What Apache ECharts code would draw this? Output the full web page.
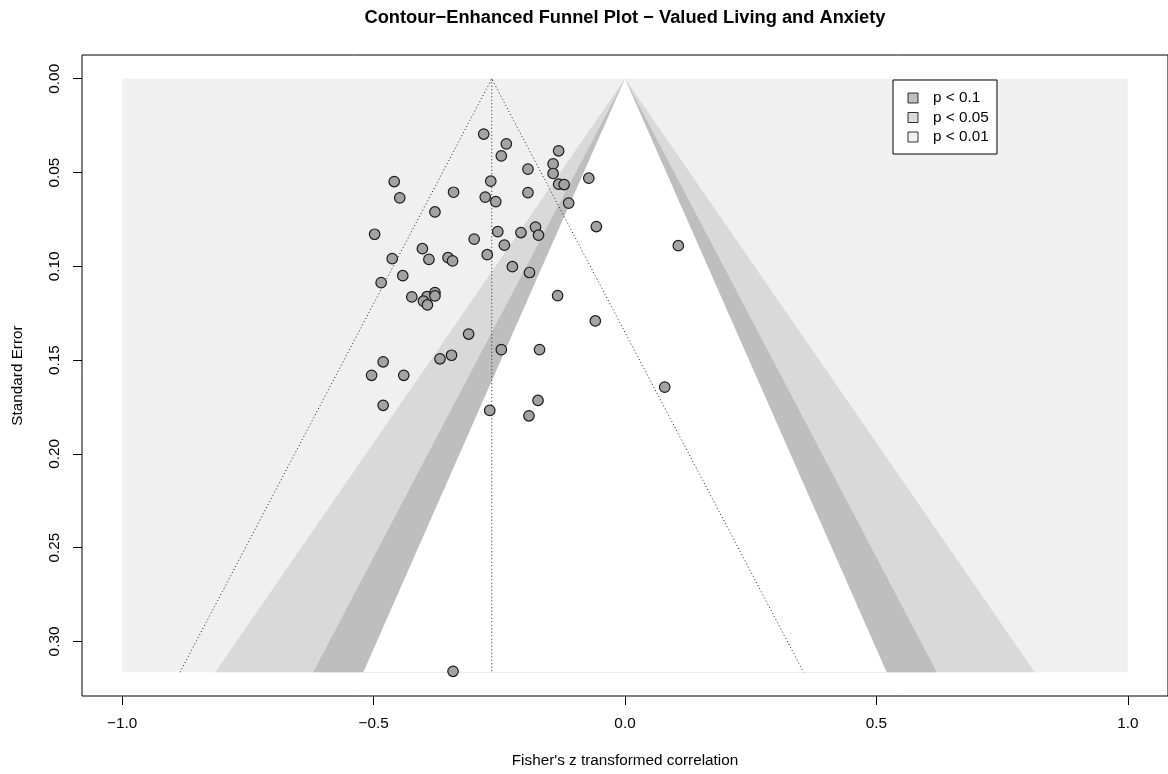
<!DOCTYPE html>
<html style="height: 100%">

<head>
    <meta charset="utf-8">
</head>

<body style="height: 100%; margin: 0; background: #fff">
    <div id="container" style="width: 1168px; height: 774px"></div>
    <script src="https://cdn.jsdelivr.net/npm/echarts@6/dist/echarts.min.js"></script>
    <script type="text/javascript">
        // study effects (Fisher's z) and their standard errors
        var studyZ = [-0.281, -0.236, -0.246, -0.193, -0.459, -0.267, -0.448, -0.341, -0.278, -0.257,
            -0.193, -0.378, -0.498, -0.253, -0.207, -0.178, -0.172, -0.300, -0.240, -0.403,
            -0.463, -0.390, -0.352, -0.343, -0.274, -0.132, -0.143, -0.143, -0.132, -0.121,
            -0.072, -0.112, -0.057, 0.106, -0.224, -0.190, -0.485, -0.442, -0.424, -0.394,
            -0.378, -0.378, -0.401, -0.393, -0.311, -0.246, -0.345, -0.368, -0.481, -0.504,
            -0.440, -0.481, -0.269, -0.191, -0.134, -0.059, -0.170, 0.079, -0.173, -0.342];
        var studySE = [0.0295, 0.0347, 0.0411, 0.0482, 0.0548, 0.0546, 0.0635, 0.0605, 0.0631, 0.0655,
            0.0607, 0.0710, 0.0829, 0.0815, 0.0820, 0.0791, 0.0834, 0.0855, 0.0887, 0.0906,
            0.0959, 0.0963, 0.0954, 0.0971, 0.0938, 0.0384, 0.0454, 0.0505, 0.0562, 0.0564,
            0.0530, 0.0663, 0.0788, 0.0890, 0.1002, 0.1033, 0.1087, 0.1050, 0.1163, 0.1162,
            0.1140, 0.1158, 0.1186, 0.1206, 0.1361, 0.1444, 0.1474, 0.1493, 0.1509, 0.1581,
            0.1581, 0.1741, 0.1768, 0.1797, 0.1156, 0.1291, 0.1444, 0.1644, 0.1715, 0.3159];

        var seMax = 0.3164;       // bottom of the funnel
        var estimate = -0.265;    // pooled estimate (dotted funnel)
        var contourLabels = ['p < 0.1', 'p < 0.05', 'p < 0.01'];
        var contourZ = [1.645, 1.96, 2.576];
        var contourColors = ['#bebebe', '#d9d9d9', '#f0f0f0'];
        var xTicks = [-1, -0.5, 0, 0.5, 1];
        var yTicks = [0, 0.05, 0.10, 0.15, 0.20, 0.25, 0.30];

        var font = 'Liberation Sans, Arial, sans-serif';
        var fs = 15.3;

        // shading layers, drawn back to front
        var shadeLayers = [
            { z: null, color: contourColors[2] },
            { z: contourZ[2], color: contourColors[1] },
            { z: contourZ[1], color: contourColors[0] },
            { z: contourZ[0], color: '#ffffff' }
        ];

        var points = studyZ.map(function (v, i) { return [v, studySE[i]]; });

        var dom = document.getElementById("container");
        var myChart = echarts.init(dom);

        // boxed key like base R legend(), top right inside the plot
        var lgX = 893, lgY = 80;
        var legendItems = [{
            type: 'rect', z: 100, shape: { x: lgX, y: lgY, width: 104, height: 74 },
            style: { fill: '#fff', stroke: '#000', lineWidth: 1 }
        }];
        contourLabels.forEach(function (lab, i) {
            legendItems.push({
                type: 'rect', z: 101, shape: { x: lgX + 15, y: lgY + 13 + i * 19.5, width: 10, height: 10 },
                style: { fill: contourColors[i], stroke: '#000', lineWidth: 0.8 }
            });
            legendItems.push({
                type: 'text', z: 101, x: lgX + 40, y: lgY + 18 + i * 19.5,
                style: { text: lab, font: fs + 'px ' + font, fill: '#000', verticalAlign: 'middle' }
            });
        });

        option = {
            backgroundColor: '#fff',
            animation: false,
            title: {
                text: 'Contour\u2212Enhanced Funnel Plot \u2212 Valued Living and Anxiety',
                left: 625,
                textAlign: 'center',
                top: 9,
                padding: 0,
                textStyle: { fontFamily: font, fontWeight: 'bold', fontSize: 18.3, color: '#000' }
            },
            grid: {
                left: 82, top: 55, width: 1089, height: 641,
                show: true, borderColor: '#000', borderWidth: 1, backgroundColor: 'transparent'
            },
            xAxis: {
                type: 'value',
                min: -1.08,
                max: 1.08,
                name: "Fisher's z transformed correlation",
                nameLocation: 'middle',
                nameGap: 57,
                nameTextStyle: { fontFamily: font, fontSize: fs, color: '#000' },
                axisLine: { show: false, onZero: false },
                splitLine: { show: false },
                axisTick: { customValues: xTicks, length: 9, lineStyle: { color: '#000' } },
                axisLabel: {
                    customValues: xTicks, margin: 20,
                    fontFamily: font, fontSize: fs, color: '#000',
                    formatter: function (v) { return v.toFixed(1).replace('-', '\u2212'); }
                }
            },
            yAxis: {
                type: 'value',
                inverse: true,
                min: -0.01266,
                max: 0.32906,
                name: 'Standard Error',
                nameLocation: 'middle',
                nameGap: 57,
                nameTextStyle: { fontFamily: font, fontSize: fs, color: '#000' },
                axisLine: { show: false, onZero: false },
                splitLine: { show: false },
                axisTick: { customValues: yTicks, length: 9, lineStyle: { color: '#000' } },
                axisLabel: {
                    customValues: yTicks, margin: 20, rotate: 90,
                    fontFamily: font, fontSize: fs, color: '#000',
                    formatter: function (v) { return v.toFixed(2); }
                }
            },
            graphic: legendItems,
            series: [
                {
                    type: 'custom',
                    silent: true,
                    z: 1,
                    data: shadeLayers.map(function (l, i) { return [0, 0, i]; }),
                    renderItem: function (params, api) {
                        var layer = shadeLayers[params.dataIndex];
                        var pts;
                        if (layer.z == null) {
                            pts = [[-1, 0], [1, 0], [1, seMax], [-1, seMax]];
                        } else {
                            pts = [[0, 0], [-layer.z * seMax, seMax], [layer.z * seMax, seMax]];
                        }
                        return {
                            type: 'polygon',
                            shape: { points: pts.map(function (p) { return api.coord(p); }) },
                            style: { fill: layer.color }
                        };
                    }
                },
                {
                    type: 'line',
                    z: 2,
                    symbol: 'none',
                    silent: true,
                    data: [[estimate - 1.96 * seMax, seMax], [estimate, 0], [estimate + 1.96 * seMax, seMax]],
                    lineStyle: { color: '#222', width: 1, type: [1, 2.5] }
                },
                {
                    type: 'line',
                    z: 2,
                    symbol: 'none',
                    silent: true,
                    data: [[estimate, 0], [estimate, seMax]],
                    lineStyle: { color: '#222', width: 1, type: [1, 2.5] }
                },
                {
                    type: 'scatter',
                    z: 3,
                    symbol: 'circle',
                    symbolSize: 10.5,
                    data: points,
                    itemStyle: { color: '#a3a3a3', borderColor: '#1a1a1a', borderWidth: 1.2, opacity: 1 }
                }
            ]
        };
        if (option && typeof option === "object") {
            myChart.setOption(option, true);
        }
    </script>
</body>

</html>
